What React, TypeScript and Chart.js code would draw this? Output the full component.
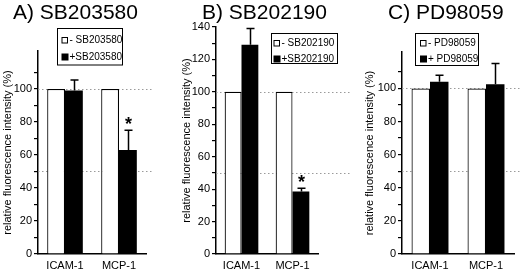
import React, { useEffect, useRef } from "react";
import { Chart, registerables } from "chart.js";

Chart.register(...registerables);

// ---------- data ----------
const categories = ["ICAM-1", "MCP-1"];
const yAxisLabel = "relative fluorescence intensity (%)";
const referenceLines = [100, 50];

const aTitle = "A) SB203580";
const aControlLabel = "- SB203580";
const aTreatedLabel = "+SB203580";
const aControl = [100, 100];
const aTreated = [99, 63];
const aTreatedError = [6.5, 12];
const aSignificant = [false, true];
const aMax = 123;

const bTitle = "B) SB202190";
const bControlLabel = "- SB202190";
const bTreatedLabel = "+SB202190";
const bControl = [100, 100];
const bTreated = [129, 38.5];
const bTreatedError = [10, 2];
const bSignificant = [false, true];
const bMax = 140;

const cTitle = "C) PD98059";
const cControlLabel = "- PD98059";
const cTreatedLabel = "+ PD98059";
const cControl = [100, 100];
const cTreated = [104, 102.5];
const cTreatedError = [4, 12.5];
const cSignificant = [false, false];
const cMax = 122;

const FONT = "'Liberation Sans', Arial, Helvetica, sans-serif";

type PanelLayout = {
  left: number;
  width: number;
  axisWidth: number;
  padRight: number;
  padTop: number;
  titleX: number;
  refEnd: number;
  legend: { x: number; y: number; w: number; h: number; rows: number[]; sq: number };
};

const panels = [
  {
    title: aTitle, controlLabel: aControlLabel, treatedLabel: aTreatedLabel,
    control: aControl, treated: aTreated, error: aTreatedError, sig: aSignificant, max: aMax,
    layout: {
      left: 0, width: 165, axisWidth: 38, padRight: 19, padTop: 51, titleX: 13, refEnd: 6,
      legend: { x: 57.5, y: 28.5, w: 65, h: 36.5, rows: [40, 57], sq: 61.5 },
    } as PanelLayout,
  },
  {
    title: bTitle, controlLabel: bControlLabel, treatedLabel: bTreatedLabel,
    control: bControl, treated: bTreated, error: bTreatedError, sig: bSignificant, max: bMax,
    layout: {
      left: 179, width: 171, axisWidth: 37, padRight: 32, padTop: 27, titleX: 23, refEnd: 40,
      legend: { x: 92.5, y: 33.5, w: 66, h: 30, rows: [43, 59], sq: 94.5 },
    } as PanelLayout,
  },
  {
    title: cTitle, controlLabel: cControlLabel, treatedLabel: cTreatedLabel,
    control: cControl, treated: cTreated, error: cTreatedError, sig: cSignificant, max: cMax,
    layout: {
      left: 362, width: 158, axisWidth: 40, padRight: 6, padTop: 52, titleX: 26, refEnd: 10,
      legend: { x: 53.5, y: 33.5, w: 63, h: 32, rows: [43, 59], sq: 58 },
    } as PanelLayout,
  },
];

const decorPlugin = {
  id: "decor",
  beforeDatasetsDraw(chart: any, _args: any, opts: any) {
    const { ctx, chartArea } = chart;
    const y = chart.scales.y;
    ctx.save();
    ctx.strokeStyle = "#9a9a9a";
    ctx.lineWidth = 1;
    ctx.setLineDash([1.5, 2.5]);
    for (const v of opts.refs) {
      const py = Math.round(y.getPixelForValue(v)) + 0.5;
      ctx.beginPath();
      ctx.moveTo(chartArea.left, py);
      ctx.lineTo(chartArea.right + opts.refEnd, py);
      ctx.stroke();
    }
    ctx.restore();
  },
  afterDatasetsDraw(chart: any, _args: any, opts: any) {
    const { ctx } = chart;
    const y = chart.scales.y;
    const meta = chart.getDatasetMeta(1);
    const values = chart.data.datasets[1].data as number[];
    ctx.save();
    ctx.strokeStyle = "#000";
    ctx.lineWidth = 1.5;
    meta.data.forEach((bar: any, i: number) => {
      const top = y.getPixelForValue(values[i] + opts.errors[i]);
      const base = y.getPixelForValue(values[i]);
      const x = Math.round(bar.x) + 0.5;
      ctx.beginPath();
      ctx.moveTo(x, base);
      ctx.lineTo(x, top);
      ctx.moveTo(x - 4, top);
      ctx.lineTo(x + 4, top);
      ctx.stroke();
      if (opts.sig[i]) {
        ctx.fillStyle = "#000";
        ctx.font = `bold 18px ${FONT}`;
        ctx.textAlign = "center";
        ctx.textBaseline = "middle";
        ctx.fillText("*", x, top - 5);
      }
    });
    ctx.restore();
  },
  afterDraw(chart: any, _args: any, opts: any) {
    const { ctx } = chart;
    ctx.save();
    ctx.fillStyle = "#000";
    ctx.font = `21px ${FONT}`;
    ctx.textAlign = "left";
    ctx.textBaseline = "alphabetic";
    ctx.fillText(opts.title, opts.titleX, 19);
    const L = opts.legend;
    ctx.strokeStyle = "#000";
    ctx.lineWidth = 1;
    ctx.strokeRect(L.x, L.y, L.w, L.h);
    const labels = [chart.data.datasets[0].label, chart.data.datasets[1].label];
    ctx.font = `10px ${FONT}`;
    ctx.textBaseline = "middle";
    labels.forEach((lab: string, i: number) => {
      const cy = L.rows[i];
      if (i === 0) {
        ctx.fillStyle = "#fff";
        ctx.fillRect(L.sq, cy - 3, 6, 6);
        ctx.strokeRect(L.sq + 0.5, cy - 2.5, 5.5, 5.5);
      } else {
        ctx.fillStyle = "#000";
        ctx.fillRect(L.sq, cy - 3.5, 7, 7);
      }
      ctx.fillStyle = "#000";
      ctx.fillText(lab, L.sq + 8, cy + 0.5);
    });
    ctx.restore();
  },
};

function Panel({ p }: { p: (typeof panels)[number] }) {
  const ref = useRef<HTMLCanvasElement | null>(null);
  useEffect(() => {
    if (!ref.current) return;
    const L = p.layout;
    const chart = new Chart(ref.current, {
      type: "bar",
      data: {
        labels: categories,
        datasets: [
          {
            label: p.controlLabel,
            data: p.control,
            backgroundColor: "#fff",
            borderColor: "#000",
            borderWidth: 1.2,
            borderSkipped: "bottom",
          },
          {
            label: p.treatedLabel,
            data: p.treated,
            backgroundColor: "#000",
            borderColor: "#000",
            borderWidth: 0,
          },
        ],
      },
      options: {
        animation: false,
        responsive: false,
        maintainAspectRatio: false,
        devicePixelRatio: 1,
        events: [],
        layout: { padding: { top: L.padTop, right: L.padRight, bottom: 0, left: 0 } },
        datasets: { bar: { barPercentage: 1, categoryPercentage: 0.66 } },
        plugins: {
          legend: { display: false },
          title: { display: false },
          tooltip: { enabled: false },
          decor: {
            refs: referenceLines,
            refEnd: L.refEnd,
            errors: p.error,
            sig: p.sig,
            title: p.title,
            titleX: L.titleX,
            legend: L.legend,
          },
        } as any,
        scales: {
          x: {
            grid: { display: false },
            border: { display: true, color: "#000", width: 1.5 },
            ticks: { color: "#000", font: { family: FONT, size: 11 }, padding: -3 },
            afterFit: (s: any) => {
              s.height = 15;
            },
          },
          y: {
            min: 0,
            max: p.max,
            grid: { drawOnChartArea: false, drawTicks: true, tickLength: 4, color: "#000", lineWidth: 1.2 },
            border: { display: true, color: "#000", width: 1.5 },
            ticks: {
              stepSize: 10,
              color: "#000",
              padding: 2,
              font: { family: FONT, size: 11 },
              callback: (v: any) => (Number(v) % 20 === 0 ? String(v) : ""),
            },
            afterBuildTicks: (s: any) => {
              s.ticks = s.ticks.filter((t: any) => t.value % 10 === 0);
            },
            afterFit: (s: any) => {
              s.width = L.axisWidth;
            },
            title: {
              display: true,
              text: yAxisLabel,
              color: "#000",
              font: { family: FONT, size: 11 },
              padding: { top: 1, bottom: 0 },
            },
          },
        },
      },
      plugins: [decorPlugin],
    });
    return () => chart.destroy();
  }, [p]);
  const L = p.layout;
  return (
    <canvas
      ref={ref}
      width={L.width}
      height={269}
      style={{ position: "absolute", left: L.left, top: 0, width: L.width, height: 269 }}
    />
  );
}

export default function App() {
  return (
    <div
      style={{
        position: "absolute",
        left: 0,
        top: 0,
        width: 520,
        height: 269,
        background: "#fff",
        overflow: "hidden",
      }}
    >
      {panels.map((p, i) => (
        <Panel key={i} p={p} />
      ))}
    </div>
  );
}
